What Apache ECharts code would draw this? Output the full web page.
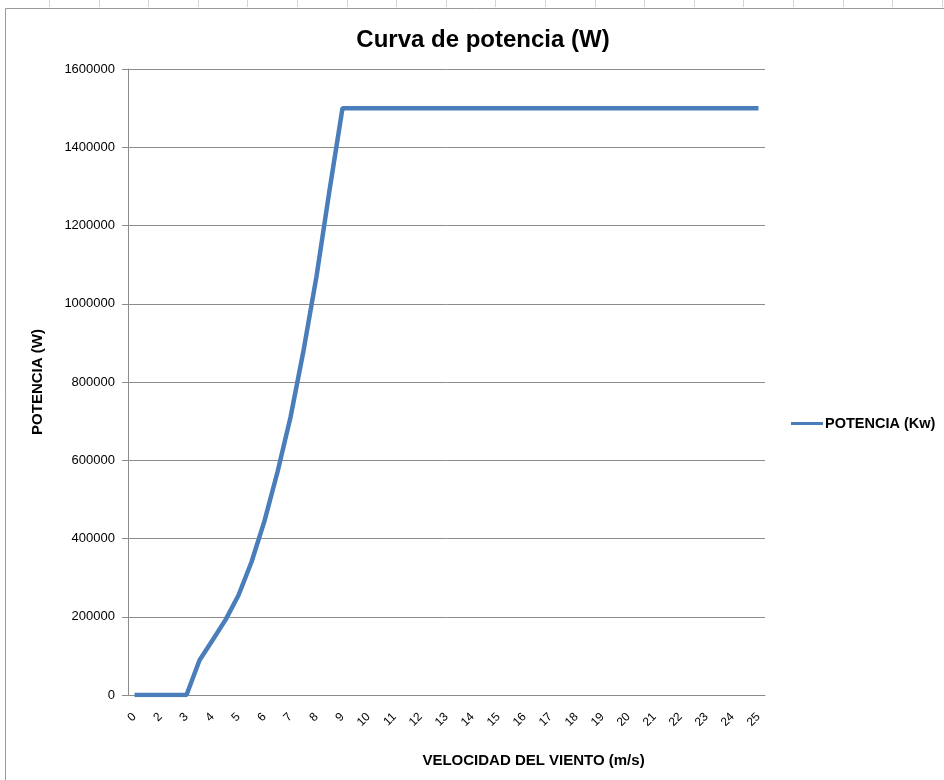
<!DOCTYPE html>
<html>
<head>
<meta charset="utf-8">
<script src="https://cdn.jsdelivr.net/npm/echarts@6/dist/echarts.min.js"></script>
<style>
  html, body { margin: 0; padding: 0; background: #fff; }
  #chart { width: 944px; height: 780px; }
</style>
</head>
<body>
<div id="chart"></div>
<script>
// velocidad del viento (m/s) - categorias del eje X
var velocidad = [0, 1, 2, 2.5, 3, 3.5, 4, 4.5, 5, 5.5, 6, 6.5, 7, 7.5, 8, 8.5, 9,
  9.5, 10, 10.5, 11, 11.5, 12, 12.5, 13, 13.5, 14, 14.5, 15, 15.5, 16, 16.5, 17,
  17.5, 18, 18.5, 19, 19.5, 20, 20.5, 21, 21.5, 22, 22.5, 23, 23.5, 24, 24.5, 25];
// potencia (W)
var potencia = [0, 0, 0, 0, 0, 89000, 140000, 192000, 255000, 340000, 445000, 570000,
  710000, 880000, 1070000, 1290000, 1500000,
  1500000, 1500000, 1500000, 1500000, 1500000, 1500000, 1500000, 1500000,
  1500000, 1500000, 1500000, 1500000, 1500000, 1500000, 1500000, 1500000,
  1500000, 1500000, 1500000, 1500000, 1500000, 1500000, 1500000, 1500000,
  1500000, 1500000, 1500000, 1500000, 1500000, 1500000, 1500000, 1500000];

var font = 'Liberation Sans';

// lineas de celdas de la hoja, arriba del grafico
var decor = [{
  type: 'rect',
  shape: {x: 5.5, y: 8.5, width: 960, height: 800},
  style: {fill: 'none', stroke: '#9a9a9a', lineWidth: 1},
  silent: true
}];
for (var c = 0; c < 19; c++) {
  var cx = Math.round(49 + c * 49.6) + 0.5;
  decor.push({
    type: 'line',
    shape: {x1: cx, y1: 0, x2: cx, y2: 7},
    style: {stroke: '#d4d4d4', lineWidth: 1},
    silent: true
  });
}

var myChart = echarts.init(document.getElementById('chart'));
var option = {
  animation: false,
  backgroundColor: '#fff',
  graphic: decor,
  title: {
    text: 'Curva de potencia (W)',
    left: 478,
    textAlign: 'center',
    top: 23,
    textStyle: {fontFamily: font, fontSize: 24, fontWeight: 'bold', color: '#000'}
  },
  legend: {
    left: 786,
    top: 411,
    icon: 'rect',
    itemWidth: 32,
    itemHeight: 3,
    itemGap: 4,
    textStyle: {fontFamily: font, fontSize: 14.5, fontWeight: 'bold', color: '#000', padding: [0, 0, 0, -3]},
    data: ['POTENCIA (Kw)']
  },
  grid: {
    left: 128,
    right: 179,
    top: 69,
    bottom: 85
  },
  xAxis: {
    type: 'category',
    data: velocidad,
    boundaryGap: true,
    name: 'VELOCIDAD DEL VIENTO (m/s)',
    nameLocation: 'middle',
    nameGap: 58,
    nameTextStyle: {fontFamily: font, fontSize: 15, fontWeight: 'bold', color: '#000', padding: [0, 0, 0, 174]},
    axisLine: {lineStyle: {color: '#8c8c8c', width: 1}},
    axisTick: {show: false},
    axisLabel: {
      interval: 1,
      rotate: 45,
      margin: 20,
      fontFamily: font,
      fontSize: 12,
      color: '#000'
    },
    splitLine: {show: false}
  },
  yAxis: {
    type: 'value',
    min: 0,
    max: 1600000,
    interval: 200000,
    name: 'POTENCIA (W)',
    nameLocation: 'middle',
    nameRotate: 90,
    nameGap: 83,
    nameTextStyle: {fontFamily: font, fontSize: 15, fontWeight: 'bold', color: '#000'},
    axisLine: {show: true, lineStyle: {color: '#8c8c8c', width: 1}},
    axisTick: {show: true, length: 6, lineStyle: {color: '#8c8c8c'}},
    axisLabel: {
      margin: 13,
      fontFamily: font,
      fontSize: 13,
      color: '#000',
      formatter: function (v) { return String(v); }
    },
    splitLine: {lineStyle: {color: '#8c8c8c', width: 1}}
  },
  series: [
    {
      name: 'POTENCIA (Kw)',
      type: 'line',
      data: potencia,
      showSymbol: false,
      symbol: 'none',
      lineStyle: {color: '#4a7ebb', width: 4.5},
      itemStyle: {color: '#4a7ebb'}
    }
  ]
};
option && myChart.setOption(option);
</script>
</body>
</html>
